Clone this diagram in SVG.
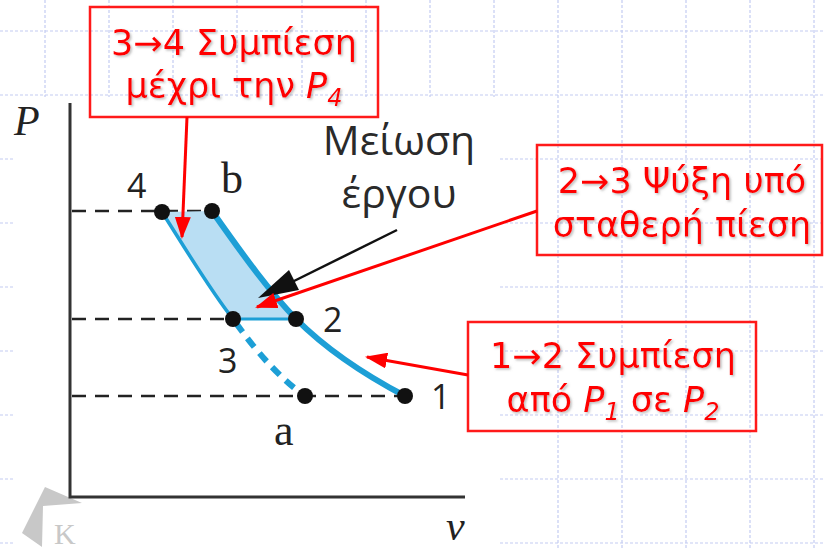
<svg xmlns="http://www.w3.org/2000/svg" width="825" height="550" viewBox="0 0 825 550">
<defs>
<style>
.grid line{stroke:#c3ccf2;stroke-width:1.2;stroke-dasharray:3,2}
.axis{stroke:#333;stroke-width:3;fill:none}
.dash{stroke:#222;stroke-width:2.5;stroke-dasharray:14,9;fill:none}
.dot{fill:#111}
.num{font-family:"Open Sans","DejaVu Sans",sans-serif;font-size:34px;fill:#222}
.ser{font-family:"Liberation Serif",serif;font-size:44px;fill:#222}
.ital{font-family:"Liberation Serif",serif;font-style:italic;fill:#222}
.note{font-family:"Open Sans","DejaVu Sans",sans-serif;font-size:41px;fill:#2a2a2a;text-anchor:middle}
.rbox{fill:none;stroke:#ff1a1a;stroke-width:2.5}
.rtxt{font-family:"DejaVu Sans","Liberation Sans",sans-serif;font-size:35px;fill:#ff0000;text-anchor:middle;filter:url(#sh)}
.rline{stroke:#ff0000;stroke-width:3;fill:none;marker-end:url(#rarr)}
.blue{stroke:#1d9fd6;fill:none}
</style>
<filter id="sh" x="-5%" y="-10%" width="115%" height="130%">
<feDropShadow dx="1.5" dy="1.5" stdDeviation="0.8" flood-color="#777" flood-opacity="0.5"/>
</filter>
<marker id="rarr" markerUnits="userSpaceOnUse" markerWidth="22" markerHeight="16" refX="20" refY="8" orient="auto">
<path d="M0,0 L22,8 L0,16 Z" fill="#ff0000"/>
</marker>
</defs>
<rect width="825" height="550" fill="#fff"/>
<g class="grid">
<line x1="0" y1="31" x2="825" y2="31"/><line x1="0" y1="95" x2="825" y2="95"/>
<line x1="0" y1="159" x2="825" y2="159"/><line x1="0" y1="223" x2="825" y2="223"/>
<line x1="0" y1="287" x2="825" y2="287"/><line x1="0" y1="351" x2="825" y2="351"/>
<line x1="0" y1="415" x2="825" y2="415"/><line x1="0" y1="479" x2="825" y2="479"/>
<line x1="0" y1="543" x2="825" y2="543"/>
<line x1="45" y1="0" x2="45" y2="550"/><line x1="109" y1="0" x2="109" y2="550"/>
<line x1="173" y1="0" x2="173" y2="550"/><line x1="237" y1="0" x2="237" y2="550"/>
<line x1="302" y1="0" x2="302" y2="550"/><line x1="366" y1="0" x2="366" y2="550"/>
<line x1="430" y1="0" x2="430" y2="550"/><line x1="494" y1="0" x2="494" y2="550"/>
<line x1="558" y1="0" x2="558" y2="550"/><line x1="622" y1="0" x2="622" y2="550"/>
<line x1="686" y1="0" x2="686" y2="550"/><line x1="750" y1="0" x2="750" y2="550"/>
<line x1="814" y1="0" x2="814" y2="550"/>
</g>
<rect x="14" y="97" width="485" height="453" fill="#fff"/>
<g id="logo">
<polygon points="45,487 82,503 43,506 42,547 22,533" fill="#c8c8c8"/>
<text x="54" y="544" font-family="Liberation Serif,serif" font-size="30" fill="#c8c8c8">K</text>
</g>
<g id="axes">
<path class="axis" d="M70,103 V497 H465"/>
<text class="ital" x="14" y="135" font-size="42">P</text>
<text class="ital" x="446" y="540" font-size="42">v</text>
</g>
<g id="guides">
<line class="dash" x1="72" y1="211" x2="212" y2="211"/>
<line class="dash" x1="72" y1="319" x2="233" y2="319"/>
<line class="dash" x1="72" y1="396" x2="405" y2="396"/>
</g>
<g id="region">
<path d="M162,212 L212,211 C245,258 270,292 296,319 L233,319 C210,290 185,248 162,212 Z" fill="#b9def3"/>
<path class="blue" stroke-width="3.5" d="M162,212 C185,248 210,290 233,319"/>
<path class="blue" stroke-width="3" d="M233,319 H296"/>
<path class="blue" stroke-width="6" d="M212,211 C245,258 270,292 296,319 C325,348 365,375 405,396"/>
<path class="blue" stroke-width="6" stroke-dasharray="11,8" d="M236,323 C258,354 282,380 305,396"/>
</g>
<g id="points">
<circle class="dot" cx="162" cy="212" r="8"/>
<circle class="dot" cx="212" cy="211" r="8"/>
<circle class="dot" cx="233" cy="319" r="8"/>
<circle class="dot" cx="296" cy="319" r="8"/>
<circle class="dot" cx="305" cy="396" r="8"/>
<circle class="dot" cx="405" cy="396" r="8"/>
<text class="num" x="127" y="198">4</text>
<text class="ser" x="221" y="193">b</text>
<text class="num" x="323" y="332">2</text>
<text class="num" x="218" y="373">3</text>
<text class="ser" x="274" y="445">a</text>
<text class="num" x="431" y="409">1</text>
</g>
<g id="work-label">
<text class="note" x="399" y="155">Μείωση</text>
<text class="note" x="399" y="208">έργου</text>
<line x1="397" y1="230" x2="290" y2="283" stroke="#111" stroke-width="2.5"/>
<polygon points="258,298 299,290 289,270" fill="#111"/>
</g>
<g id="box-34">
<rect class="rbox" x="90" y="7" width="288" height="110"/>
<text class="rtxt" x="234" y="55">3→4 Συμπίεση</text>
<text class="rtxt" x="234" y="98">μέχρι την <tspan font-style="italic">P<tspan font-size="24" dy="8">4</tspan></tspan></text>
</g>
<g id="box-23">
<rect class="rbox" x="537" y="145" width="285" height="110"/>
<text class="rtxt" x="682" y="193">2→3 Ψύξη υπό</text>
<text class="rtxt" x="682" y="237">σταθερή πίεση</text>
</g>
<g id="box-12">
<rect class="rbox" x="468" y="322" width="288" height="109"/>
<text class="rtxt" x="613" y="368">1→2 Συμπίεση</text>
<text class="rtxt" x="613" y="412">από <tspan font-style="italic">P<tspan font-size="24" dy="8">1</tspan></tspan><tspan dy="-8"> σε </tspan><tspan font-style="italic">P<tspan font-size="24" dy="8">2</tspan></tspan></text>
</g>
<g id="connectors">
<line class="rline" x1="187" y1="117" x2="182" y2="237"/>
<line class="rline" x1="537" y1="211" x2="257" y2="307"/>
<line class="rline" x1="468" y1="375" x2="367" y2="357"/>
</g>
</svg>
